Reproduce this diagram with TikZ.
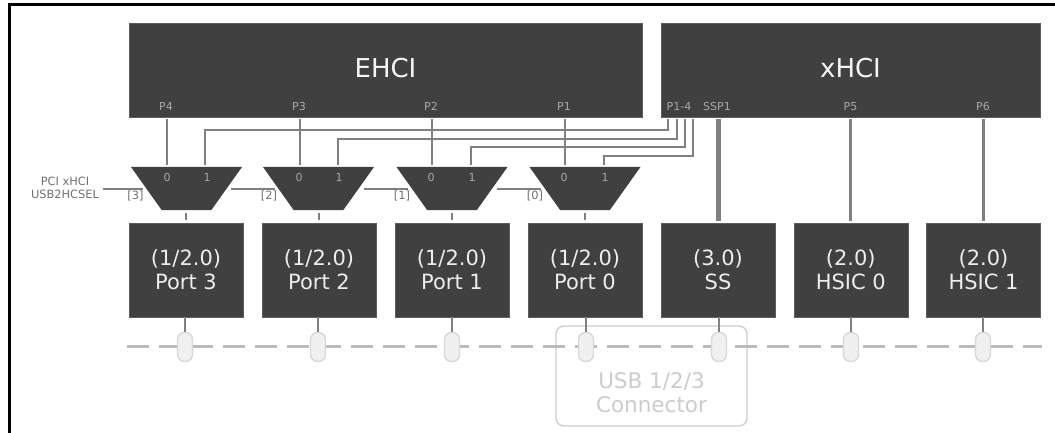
\documentclass[tikz,border=0pt]{standalone}
\usepackage{fontspec}
\setmainfont{DejaVu Sans}
\usetikzlibrary{shapes.geometric}
\definecolor{boxdark}{HTML}{404040}
\definecolor{wiregray}{HTML}{808080}
\definecolor{labelgray}{HTML}{A8A8A8}
\definecolor{dashgray}{HTML}{BBBBBB}
\definecolor{connlight}{HTML}{CCCCCC}
\definecolor{pillfill}{HTML}{F0F0F0}
\definecolor{pillline}{HTML}{D8D8D8}
\tikzset{
  x=1pt,y=1pt,
  hostbox/.style={rectangle,fill=boxdark,draw=boxdark!85!white,line width=.5pt,inner sep=0pt,anchor=north west,minimum height=94pt},
  hosttext/.style={text=white!96!black,inner sep=0pt,font=\fontsize{26}{30}\selectfont},
  portbox/.style={rectangle,fill=boxdark,draw=boxdark!85!white,line width=.5pt,inner sep=0pt,minimum width=114pt,minimum height=94pt},
  porttext/.style={text=white!93!black,inner sep=0pt,align=center,font=\fontsize{21}{24}\selectfont},
  muxshape/.style={trapezium,fill=boxdark,draw=none,inner sep=1pt,trapezium stretches=true,minimum width=111pt,minimum height=43pt,shape border rotate=180,trapezium left angle=58.4,trapezium right angle=58.4},
  tinylabel/.style={text=labelgray,inner sep=0pt,font=\fontsize{11}{13}\selectfont},
  sellabel/.style={text=boxdark!75!white,inner sep=0pt,align=center,font=\fontsize{11.4}{12.5}\selectfont},
  wire/.style={draw=wiregray,line width=2.2pt,shorten <=2pt,shorten >=2pt},
  thickwire/.style={draw=wiregray,line width=5pt,shorten <=2pt,shorten >=2pt},
  midwire/.style={draw=wiregray,line width=2.8pt,shorten <=2pt,shorten >=2pt},
  selwire/.style={draw=wiregray,line width=1.1pt},
  stubwire/.style={draw=wiregray,line width=2.4pt,shorten <=3pt,shorten >=3pt},
  pill/.style={rectangle,rounded corners=7pt,fill=pillfill,draw=pillline,line width=1.4pt,minimum width=15pt,minimum height=29pt,inner sep=0pt},
  portstub/.style={draw=wiregray,line width=1.8pt},
  cable/.style={draw=dashgray,line width=2.7pt,dash pattern=on 22pt off 10pt},
  connbox/.style={rectangle,rounded corners=8pt,draw=connlight,line width=1.3pt,fill=white,inner sep=0pt,minimum width=191pt,minimum height=100pt},
}
\begin{document}
\begin{tikzpicture}
\useasboundingbox (0,0) rectangle (1055,-433);
% frame
\draw[black,line width=2.8pt] (9.3,-433) -- (9.3,-4.3) -- (1055,-4.3);
% hosts
\node[hostbox,minimum width=513pt] (ehci) at (129,-23) {};
\node[hostbox,minimum width=379pt] (xhci) at (661,-23) {};
\node[hosttext] (ehcit) at (385.5,-68) {EHCI};
\node[hosttext] (xhcit) at (850.5,-68) {xHCI};
\foreach \n/\t/\x in {pf/P4/166,pt/P3/299,ps/P2/431,po/P1/564,pq/P1-4/679,ssp/SSP1/717,pfive/P5/850.5,psix/P6/983}
  \node[tinylabel] (\n) at (\x,-106.5) {\t};
% muxes
\foreach \n/\x in {muxa/186.5,muxb/318.5,muxc/452,muxd/585}
  \node[muxshape] (\n) at (\x,-188.5) {};
\foreach \n/\x in {a/167,b/299,c/431,d/564}{
  \node[tinylabel] (zero\n) at (\x,-177) {0};
}
\foreach \n/\x in {a/207,b/339,c/472,d/605}{
  \node[tinylabel] (one\n) at (\x,-177) {1};
}
% ports
\foreach \n/\t/\x in {pa/{(1/2.0)\\Port 3}/186,pb/{(1/2.0)\\Port 2}/319,pc/{(1/2.0)\\Port 1}/452,pd/{(1/2.0)\\Port 0}/585,pe/{(3.0)\\SS}/718,pg/{(2.0)\\HSIC 0}/850.75,ph/{(2.0)\\HSIC 1}/983.5}{
  \node[portbox] (\n) at (\x,-270) {};
  \node[porttext] (t\n) at (\x,-270) {\t};
}
% connector
\node[connbox] (conn) at (651.5,-376) {};
\node[text=connlight,align=center,inner sep=0pt,font=\fontsize{21.5}{24}\selectfont] (connt) at (651.5,-393) {USB 1/2/3\\Connector};
% cable
\coordinate (cablea) at (127,-346.7);
\coordinate (cableb) at (1042,-346.7);
\draw[cable] (cablea) -- (cableb);
% pills
\foreach \n/\x in {a/185,b/318,c/452,d/586,e/719,g/851,h/983}{
  \node[pill] (pill\n) at (\x,-347) {};
}
\foreach \n in {a,b,c,d,e,g,h}
  \draw[portstub] (p\n.south -| pill\n) -- (pill\n.north);
% input coordinates
\coordinate (ina) at (167,-167); \coordinate (inb) at (300,-167);
\coordinate (inc) at (432,-167); \coordinate (ind) at (565,-167);
\coordinate (alta) at (205,-167); \coordinate (altb) at (338,-167);
\coordinate (altc) at (471,-167); \coordinate (altd) at (604,-167);
\coordinate (srca) at (668,-117); \coordinate (srcb) at (677,-117);
\coordinate (srcc) at (685,-117); \coordinate (srcd) at (693,-117);
\draw[wire] (ina |- ehci.south) -- (ina);
\draw[wire] (inb |- ehci.south) -- (inb);
\draw[wire] (inc |- ehci.south) -- (inc);
\draw[wire] (ind |- ehci.south) -- (ind);
\draw[wire] (srca) -- (668,-130) -- (205,-130) -- (alta);
\draw[wire] (srcb) -- (677,-139) -- (338,-139) -- (altb);
\draw[wire] (srcc) -- (685,-147) -- (471,-147) -- (altc);
\draw[wire] (srcd) -- (693,-156) -- (604,-156) -- (altd);
% xhci straight
\coordinate (fivetop) at (850.7,-117); \coordinate (sixtop) at (983.4,-117);
\draw[thickwire] (718,-117) -- (718,-223);
\draw[midwire] (fivetop) -- (fivetop |- pg.north);
\draw[midwire] (sixtop) -- (sixtop |- ph.north);
% mux to port
\draw[stubwire] (186,-210) -- (pa.north);
\draw[stubwire] (319,-210) -- (pb.north);
\draw[stubwire] (452,-210) -- (pc.north);
\draw[stubwire] (585,-210) -- (pd.north);
% select
\node[sellabel] (sel) at (65,-188) {PCI xHCI\\USB2HCSEL};
\coordinate (sela) at (103,-189); \coordinate (selb) at (231,-189);
\coordinate (selc) at (364,-189); \coordinate (seld) at (497,-189);
\draw[selwire] (sela) -- (143,-189);
\draw[selwire] (selb) -- (275,-189);
\draw[selwire] (selc) -- (408,-189);
\draw[selwire] (seld) -- (541,-189);
\foreach \n/\t/\x in {bita/{[3]}/135.5,bitb/{[2]}/269,bitc/{[1]}/402,bitd/{[0]}/535}
  \node[sellabel] (\n) at (\x,-196) {\t};
\end{tikzpicture}
\end{document}
